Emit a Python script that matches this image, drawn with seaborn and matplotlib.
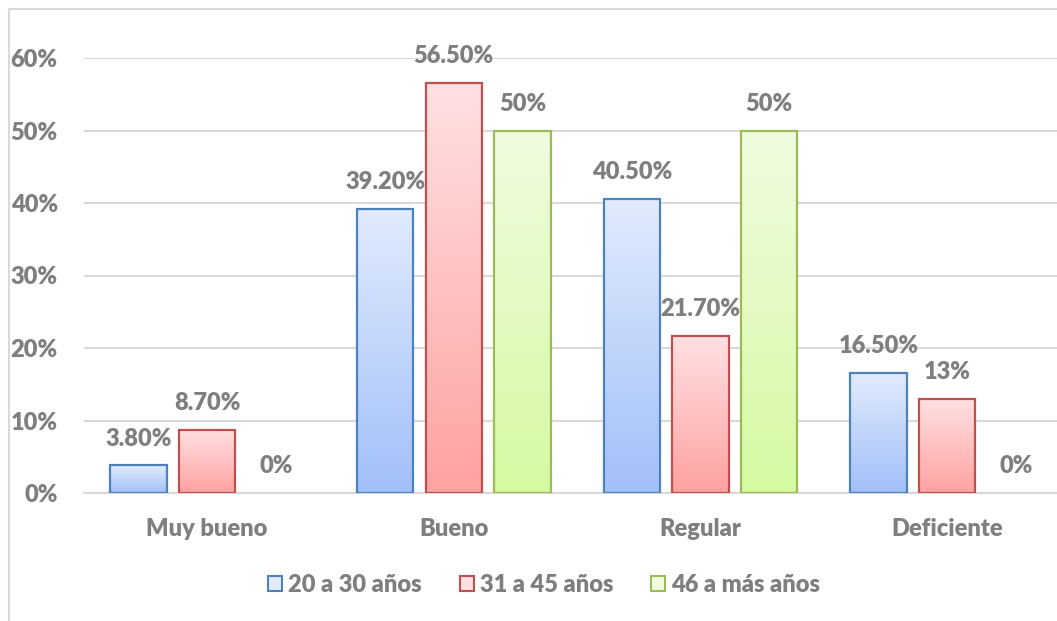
import numpy as np
import pandas as pd
import matplotlib
matplotlib.use("Agg")
import matplotlib.pyplot as plt
from matplotlib.colors import LinearSegmentedColormap
from matplotlib.patches import Patch
from matplotlib.lines import Line2D
import seaborn as sns

# Data
categories = ["Muy bueno", "Bueno", "Regular", "Deficiente"]
groups = ["20 a 30 años", "31 a 45 años", "46 a más años"]
vals_20_30 = [0.038, 0.392, 0.405, 0.165]
vals_31_45 = [0.087, 0.565, 0.217, 0.13]
vals_46_mas = [0.0, 0.50, 0.50, 0.0]
y_ticks = [0.0, 0.1, 0.2, 0.3, 0.4, 0.5, 0.6]

# Styling
edge_colors = ["#4f81bd", "#c0504d", "#9bbb59"]
grad_top = ["#e1ebfd", "#ffe1e2", "#f0fce0"]
grad_bottom = ["#a2c0f9", "#ffa2a2", "#d6f9a2"]
text_color = "#7f7f7f"
grid_color = "#d9d9d9"
WEIGHT = "heavy"

df = pd.DataFrame({
    "categoria": categories * 3,
    "grupo": [groups[0]] * 4 + [groups[1]] * 4 + [groups[2]] * 4,
    "valor": vals_20_30 + vals_31_45 + vals_46_mas,
})

sns.set_theme(style="white")
plt.rcParams["font.family"] = ["Lato", "DejaVu Sans"]
plt.rcParams["font.weight"] = WEIGHT

W, H = 1057, 621
fig = plt.figure(figsize=(W / 100, H / 100), dpi=100)
ax = fig.add_axes([83.7 / W, 1 - 493 / H, 986.7 / W, 435 / H])

sns.barplot(data=df, x="categoria", y="valor", hue="grupo",
            order=categories, hue_order=groups,
            palette=dict(zip(groups, edge_colors)),
            width=0.835, gap=0.18, ax=ax, legend=False,
            errorbar=None)

ax.set_xlim(-0.5, 3.5)
ax.set_ylim(0, 0.6)

def fmt(v):
    p = round(v * 100, 2)
    return f"{int(round(p))}%" if abs(p - round(p)) < 1e-9 else f"{p:.2f}%"

for gi, cont in enumerate(ax.containers):
    cmap = LinearSegmentedColormap.from_list(f"g{gi}", [grad_top[gi], grad_bottom[gi]])
    for bar in cont:
        x0 = bar.get_x()
        w = bar.get_width()
        h = bar.get_height()
        if h > 0:
            bar.set_facecolor("none")
            bar.set_edgecolor(edge_colors[gi])
            bar.set_linewidth(1.6)
            bar.set_zorder(3)
            grad = np.linspace(0, 1, 256).reshape(-1, 1)
            im = ax.imshow(grad, cmap=cmap, extent=[x0, x0 + w, 0, h],
                           origin="upper", aspect="auto", zorder=2,
                           interpolation="bilinear")
            im.set_clip_path(bar)
        else:
            bar.set_linewidth(0)
            bar.set_facecolor("none")
        ax.annotate(fmt(h), (x0 + w / 2, h), xytext=(0, 19.4),
                    textcoords="offset points", ha="center", va="center",
                    fontsize=17, fontweight=WEIGHT, color=text_color)

ax.set_xlim(-0.5, 3.5)
ax.set_ylim(0, 0.6)
ax.set_yticks(y_ticks)
ax.set_yticklabels([f"{int(round(t * 100))}%" for t in y_ticks])
ax.yaxis.grid(True, color=grid_color, linewidth=1.5)
ax.xaxis.grid(False)
ax.set_axisbelow(True)
for s in ["top", "right", "left"]:
    ax.spines[s].set_visible(False)
ax.spines["bottom"].set_color(grid_color)
ax.spines["bottom"].set_linewidth(1.5)
ax.tick_params(axis="both", length=0, labelsize=17, labelcolor=text_color)
ax.tick_params(axis="y", pad=18.7)
ax.tick_params(axis="x", pad=18)
for lab in ax.get_xticklabels() + ax.get_yticklabels():
    lab.set_fontweight(WEIGHT)
ax.set_xlabel("")
ax.set_ylabel("")
ax.patch.set_alpha(0)

handles = [Patch(facecolor=grad_top[i], edgecolor=edge_colors[i], linewidth=1.5)
           for i in range(3)]
leg = fig.legend(handles, groups, loc="center", bbox_to_anchor=(544 / W, 1 - 585 / H),
                 ncol=3, frameon=False, handlelength=0.6, handleheight=0.6,
                 handletextpad=0.25, columnspacing=1.6,
                 prop={"size": 17, "weight": WEIGHT})
for t in leg.get_texts():
    t.set_color(text_color)

# outer chart frame
fig.add_artist(Line2D([9 / W, 9 / W], [0, 1 - 9 / H], color=grid_color, lw=1.5,
                      transform=fig.transFigure))
fig.add_artist(Line2D([9 / W, 1], [1 - 9 / H, 1 - 9 / H], color=grid_color, lw=1.5,
                      transform=fig.transFigure))

fig.savefig("out.png", dpi=100)
